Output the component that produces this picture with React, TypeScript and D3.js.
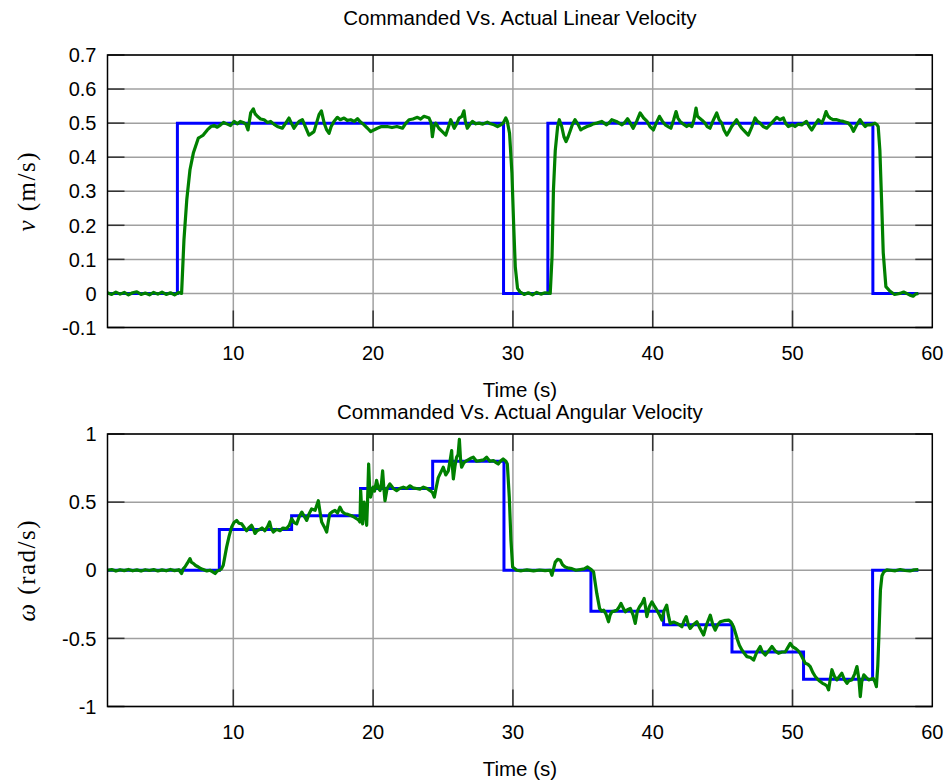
import React from 'react';
import * as d3 from 'd3';

// ---- data ----
const timeTicks = [10, 20, 30, 40, 50, 60];
const linTicks = [-0.1, 0, 0.1, 0.2, 0.3, 0.4, 0.5, 0.6, 0.7];
const angTicks = [-1, -0.5, 0, 0.5, 1];

// commanded values hold from each time until the next one (step)
const cmdLinT = [1, 6.0, 29.33, 32.5, 55.75, 59.0];
const cmdLinV = [0, 0.5, 0, 0.5, 0, 0];

const cmdAngT = [1, 9.0, 14.17, 19.1, 24.26, 29.36, 35.58, 40.78, 45.67, 50.79, 55.73, 59.0];
const cmdAngV = [0, 0.3, 0.4, 0.6, 0.8, 0, -0.3, -0.4, -0.6, -0.8, 0, 0];

// measured linear velocity [t, v]
const actLin: [number, number][] = [
  [1.0,0.002],[1.3,-0.003],[1.6,0.004],[1.9,-0.002],[2.2,0.003],[2.5,-0.004],[2.8,0.002],[3.1,0.005],[3.4,-0.003],[3.7,0.001],
  [4.0,-0.004],[4.3,0.003],[4.6,-0.002],[4.9,0.004],[5.2,-0.003],[5.5,0.002],[5.8,-0.004],[6.1,0.003],[6.3,0.0],
  [6.47,0.158],[6.67,0.275],[6.9,0.363],[7.14,0.412],[7.5,0.456],[7.66,0.46],[7.85,0.465],[8.14,0.48],[8.4,0.49],[8.62,0.493],
  [8.85,0.488],[9.09,0.495],[9.3,0.502],[9.57,0.497],[9.8,0.493],[10.05,0.505],[10.3,0.498],[10.5,0.505],[10.7,0.502],[10.9,0.497],
  [11.05,0.48],[11.24,0.53],[11.43,0.542],[11.55,0.528],[11.72,0.52],[11.95,0.512],[12.2,0.51],[12.45,0.502],[12.67,0.505],[12.9,0.497],
  [13.15,0.49],[13.5,0.485],[13.75,0.5],[13.98,0.515],[14.15,0.5],[14.34,0.485],[14.5,0.495],[14.7,0.505],[14.94,0.51],[15.15,0.49],
  [15.41,0.465],[15.6,0.47],[15.77,0.475],[15.95,0.5],[16.13,0.525],[16.3,0.536],[16.5,0.5],[16.68,0.48],[16.85,0.47],[17.0,0.49],
  [17.2,0.505],[17.44,0.517],[17.65,0.51],[17.92,0.515],[18.15,0.508],[18.4,0.51],[18.65,0.505],[18.88,0.513],[19.1,0.503],[19.35,0.495],
  [19.6,0.485],[19.83,0.475],[20.05,0.48],[20.3,0.485],[20.6,0.49],[21.0,0.49],[21.35,0.487],[21.7,0.49],[22.1,0.485],[22.35,0.5],
  [22.57,0.51],[22.85,0.512],[23.17,0.517],[23.4,0.512],[23.64,0.52],[24.0,0.515],[24.15,0.5],[24.24,0.46],[24.35,0.49],[24.48,0.5],
  [24.7,0.485],[24.95,0.475],[25.2,0.465],[25.4,0.49],[25.55,0.51],[25.8,0.485],[26.0,0.5],[26.15,0.515],[26.35,0.52],[26.5,0.536],
  [26.6,0.505],[26.74,0.485],[26.9,0.495],[27.1,0.505],[27.35,0.498],[27.58,0.5],[27.85,0.497],[28.17,0.503],[28.4,0.498],[28.65,0.495],
  [28.9,0.49],[29.13,0.495],[29.3,0.5],[29.49,0.515],[29.6,0.505],[29.76,0.47],[29.93,0.353],[30.05,0.206],[30.17,0.078],[30.33,0.015],
  [30.5,0.005],[30.8,-0.003],[31.1,0.002],[31.4,-0.004],[31.7,0.003],[32.0,-0.002],[32.3,0.002],[32.67,0.0],[32.8,0.108],[32.9,0.304],
  [33.03,0.42],[33.2,0.49],[33.32,0.51],[33.49,0.49],[33.65,0.46],[33.8,0.446],[33.95,0.46],[34.09,0.476],[34.25,0.495],[34.44,0.51],
  [34.68,0.495],[34.85,0.48],[35.04,0.485],[35.3,0.49],[35.52,0.493],[35.75,0.498],[36.0,0.5],[36.35,0.505],[36.7,0.495],[36.9,0.502],
  [37.07,0.51],[37.4,0.505],[37.8,0.495],[38.0,0.502],[38.2,0.513],[38.4,0.5],[38.6,0.485],[38.85,0.505],[39.1,0.53],[39.35,0.515],
  [39.6,0.505],[39.8,0.49],[40.05,0.48],[40.25,0.5],[40.48,0.52],[40.7,0.505],[40.9,0.495],[41.1,0.49],[41.3,0.485],[41.5,0.51],
  [41.67,0.534],[41.8,0.515],[41.96,0.505],[42.2,0.497],[42.43,0.49],[42.6,0.495],[42.8,0.49],[42.95,0.51],[43.1,0.544],[43.2,0.52],
  [43.34,0.515],[43.55,0.508],[43.74,0.5],[43.9,0.49],[44.1,0.485],[44.35,0.51],[44.58,0.53],[44.75,0.51],[44.94,0.5],[45.1,0.48],
  [45.3,0.465],[45.45,0.475],[45.65,0.49],[46.0,0.51],[46.2,0.495],[46.37,0.485],[46.6,0.475],[46.84,0.465],[47.1,0.49],[47.32,0.515],
  [47.5,0.505],[47.68,0.5],[47.9,0.49],[48.16,0.485],[48.5,0.5],[48.87,0.517],[49.1,0.51],[49.35,0.515],[49.5,0.5],[49.7,0.49],
  [50.0,0.495],[50.18,0.49],[50.4,0.497],[50.66,0.495],[51.0,0.505],[51.2,0.49],[51.38,0.48],[51.6,0.495],[51.85,0.51],[52.1,0.5],
  [52.25,0.515],[52.4,0.534],[52.55,0.52],[52.69,0.515],[52.9,0.51],[53.17,0.51],[53.4,0.507],[53.64,0.505],[54.0,0.5],[54.2,0.49],
  [54.36,0.476],[54.6,0.495],[54.83,0.51],[55.0,0.5],[55.2,0.49],[55.35,0.495],[55.55,0.495],[55.75,0.497],[55.9,0.5],[56.05,0.495],
  [56.13,0.49],[56.25,0.42],[56.37,0.275],[56.49,0.12],[56.68,0.02],[56.96,0.007],[57.3,-0.003],[57.68,0.0],[57.95,0.004],[58.16,0.0],
  [58.4,-0.005],[58.63,-0.008],[58.8,-0.002],[59.0,0.0]
];

// measured angular velocity [t, w]
const actAng: [number, number][] = [
  [1.0,0.0],[1.3,0.005],[1.6,-0.006],[1.9,0.004],[2.2,-0.003],[2.5,0.006],[2.8,-0.004],[3.1,0.003],[3.4,-0.006],[3.7,0.004],
  [4.0,-0.002],[4.3,0.005],[4.6,-0.005],[4.9,0.003],[5.2,-0.004],[5.5,0.006],[5.8,-0.003],[6.1,0.004],[6.3,-0.024],[6.42,0.01],
  [6.54,0.024],[6.7,0.05],[6.9,0.085],[7.0,0.06],[7.14,0.05],[7.3,0.035],[7.5,0.024],[7.7,0.01],[7.85,0.005],[8.1,-0.005],
  [8.33,0.0],[8.5,-0.01],[8.7,-0.024],[8.85,-0.005],[9.0,0.0],[9.15,0.01],[9.28,0.037],[9.52,0.17],[9.7,0.25],[9.88,0.317],
  [10.05,0.35],[10.24,0.366],[10.4,0.345],[10.6,0.34],[10.8,0.31],[10.95,0.29],[11.1,0.31],[11.3,0.33],[11.45,0.3],[11.55,0.27],
  [11.7,0.29],[11.9,0.3],[12.05,0.31],[12.26,0.29],[12.45,0.32],[12.6,0.354],[12.7,0.31],[12.86,0.28],[13.1,0.3],[13.34,0.29],
  [13.55,0.31],[13.8,0.305],[14.0,0.33],[14.17,0.378],[14.35,0.35],[14.53,0.34],[14.7,0.39],[14.9,0.427],[15.05,0.4],[15.25,0.366],
  [15.4,0.41],[15.6,0.45],[15.85,0.44],[16.08,0.51],[16.2,0.43],[16.32,0.354],[16.5,0.32],[16.68,0.28],[16.8,0.36],[16.9,0.415],
  [17.1,0.43],[17.27,0.44],[17.45,0.42],[17.63,0.463],[17.8,0.43],[17.99,0.415],[18.2,0.41],[18.46,0.4],[18.65,0.39],[18.82,0.378],
  [18.95,0.37],[19.06,0.354],[19.11,0.585],[19.18,0.45],[19.25,0.34],[19.35,0.5],[19.42,0.46],[19.54,0.33],[19.6,0.5],[19.68,0.78],
  [19.75,0.6],[19.82,0.537],[20.0,0.61],[20.1,0.58],[20.25,0.66],[20.38,0.6],[20.5,0.585],[20.6,0.64],[20.68,0.73],[20.77,0.6],
  [20.85,0.51],[21.0,0.6],[21.2,0.634],[21.45,0.6],[21.68,0.585],[21.9,0.6],[22.16,0.61],[22.4,0.6],[22.64,0.62],[22.85,0.605],
  [23.1,0.6],[23.35,0.595],[23.6,0.61],[23.85,0.6],[24.07,0.585],[24.25,0.57],[24.38,0.537],[24.5,0.6],[24.66,0.68],[24.85,0.72],
  [25.02,0.756],[25.2,0.7],[25.38,0.73],[25.5,0.8],[25.62,0.878],[25.68,0.75],[25.74,0.67],[25.85,0.76],[25.97,0.83],[26.08,0.85],
  [26.17,0.96],[26.25,0.82],[26.33,0.756],[26.5,0.79],[26.7,0.805],[26.95,0.82],[27.17,0.83],[27.4,0.8],[27.64,0.805],[27.9,0.81],
  [28.12,0.83],[28.35,0.8],[28.6,0.805],[28.8,0.79],[28.95,0.78],[29.1,0.8],[29.3,0.817],[29.5,0.8],[29.6,0.78],[29.74,0.537],
  [29.86,0.22],[29.98,0.024],[30.27,0.0],[30.6,-0.004],[31.0,0.003],[31.48,-0.005],[31.9,0.002],[32.3,-0.003],[32.67,0.0],[32.79,-0.037],
  [33.03,0.06],[33.2,0.08],[33.39,0.073],[33.55,0.04],[33.74,0.024],[34.0,0.015],[34.22,0.012],[34.5,0.0],[34.82,0.005],[35.1,0.01],
  [35.34,0.024],[35.6,0.005],[35.77,-0.012],[36.0,-0.17],[36.2,-0.28],[36.35,-0.3],[36.49,-0.293],[36.65,-0.32],[36.84,-0.378],[36.95,-0.33],
  [37.08,-0.305],[37.25,-0.3],[37.44,-0.293],[37.6,-0.27],[37.73,-0.244],[37.9,-0.28],[38.04,-0.305],[38.2,-0.29],[38.4,-0.28],[38.6,-0.33],
  [38.75,-0.39],[38.9,-0.3],[39.06,-0.268],[39.25,-0.24],[39.39,-0.207],[39.5,-0.28],[39.58,-0.34],[39.75,-0.27],[39.94,-0.232],[40.1,-0.26],
  [40.3,-0.293],[40.5,-0.33],[40.66,-0.366],[40.8,-0.3],[41.0,-0.256],[41.12,-0.33],[41.25,-0.39],[41.5,-0.38],[41.73,-0.39],[41.9,-0.4],
  [42.09,-0.415],[42.25,-0.37],[42.4,-0.34],[42.55,-0.4],[42.68,-0.427],[42.9,-0.4],[43.16,-0.378],[43.4,-0.43],[43.64,-0.475],[43.85,-0.4],
  [44.12,-0.33],[44.3,-0.4],[44.47,-0.44],[44.65,-0.4],[44.83,-0.378],[45.1,-0.37],[45.43,-0.366],[45.6,-0.38],[45.78,-0.415],[45.92,-0.46],
  [46.07,-0.512],[46.2,-0.55],[46.38,-0.585],[46.55,-0.61],[46.74,-0.634],[47.0,-0.64],[47.22,-0.66],[47.45,-0.6],[47.69,-0.56],[47.85,-0.6],
  [48.05,-0.622],[48.3,-0.59],[48.53,-0.56],[48.75,-0.59],[49.0,-0.61],[49.25,-0.6],[49.48,-0.6],[49.65,-0.57],[49.84,-0.537],[50.0,-0.56],
  [50.2,-0.573],[50.4,-0.59],[50.55,-0.61],[50.75,-0.65],[50.91,-0.683],[51.1,-0.69],[51.27,-0.707],[51.45,-0.75],[51.63,-0.78],[51.8,-0.8],
  [51.98,-0.817],[52.15,-0.83],[52.34,-0.84],[52.47,-0.85],[52.58,-0.878],[52.7,-0.8],[52.82,-0.73],[53.0,-0.78],[53.18,-0.805],[53.35,-0.78],
  [53.53,-0.756],[53.7,-0.8],[53.9,-0.83],[54.05,-0.81],[54.25,-0.805],[54.45,-0.76],[54.61,-0.707],[54.75,-0.8],[54.85,-0.927],[54.95,-0.82],
  [55.1,-0.768],[55.3,-0.79],[55.45,-0.805],[55.6,-0.8],[55.77,-0.793],[55.9,-0.82],[56.0,-0.854],[56.1,-0.7],[56.17,-0.512],[56.29,-0.146],
  [56.4,-0.04],[56.53,-0.012],[56.75,0.003],[57.0,0.0],[57.35,-0.004],[57.7,0.005],[58.05,-0.002],[58.4,-0.005],[58.7,0.003],[59.0,0.005]
];

const W = 949;
const H = 783;
const left = 107.5;
const right = 932.3;
const sans = '"Liberation Sans", Arial, sans-serif';
const serif = '"Liberation Serif", "Times New Roman", serif';

const x = d3.scaleLinear().domain([1, 60]).range([left, right]);

function fmt(v: number) {
  return String(Math.round(v * 10) / 10);
}

function Panel({ top, bottom, yDomain, yTicks, cmdT, cmdV, actual, title, titleY, ylabel }: any) {
  const y = d3.scaleLinear().domain(yDomain).range([bottom, top]);
  const cmd = cmdT.map((t: number, i: number) => [t, cmdV[i]]);
  const stepLine = d3.line<number[]>().x(d => x(d[0])).y(d => y(d[1])).curve(d3.curveStepAfter);
  const line = d3.line<number[]>().x(d => x(d[0])).y(d => y(d[1]));
  const tickLen = 17;
  return (
    <g>
      <text x={(left + right) / 2} y={titleY} textAnchor="middle" fontFamily={sans} fontSize={20.5}>{title}</text>
      {/* grid */}
      {timeTicks.filter(t => t < 60).map(t => (
        <line key={'gx' + t} x1={x(t)} x2={x(t)} y1={top} y2={bottom} stroke="#a0a0a0" strokeWidth={1.5} />
      ))}
      {yTicks.map((v: number) => (
        <line key={'gy' + v} x1={left} x2={right} y1={y(v)} y2={y(v)} stroke="#a0a0a0" strokeWidth={1.5} />
      ))}
      {/* ticks */}
      {timeTicks.filter(t => t < 60).map(t => (
        <g key={'tx' + t}>
          <line x1={x(t)} x2={x(t)} y1={bottom} y2={bottom - tickLen} stroke="#333" strokeWidth={1.5} />
          <line x1={x(t)} x2={x(t)} y1={top} y2={top + tickLen} stroke="#333" strokeWidth={1.5} />
        </g>
      ))}
      {yTicks.map((v: number) => (
        <g key={'ty' + v}>
          <line x1={left} x2={left + tickLen} y1={y(v)} y2={y(v)} stroke="#333" strokeWidth={1.5} />
          <line x1={right} x2={right - tickLen} y1={y(v)} y2={y(v)} stroke="#333" strokeWidth={1.5} />
        </g>
      ))}
      {/* data */}
      <path d={stepLine(cmd) || ''} fill="none" stroke="#0000ff" strokeWidth={3} />
      <path d={line(actual) || ''} fill="none" stroke="#008000" strokeWidth={3.2} strokeLinejoin="round" />
      <rect x={left} y={top} width={right - left} height={bottom - top} fill="none" stroke="#000" strokeWidth={1.5} />
      {/* tick labels */}
      {yTicks.map((v: number) => (
        <text key={'ly' + v} x={left - 11} y={y(v)} dy="0.36em" textAnchor="end" fontFamily={sans} fontSize={20}>{fmt(v)}</text>
      ))}
      {timeTicks.map(t => (
        <text key={'lx' + t} x={x(t)} y={bottom + 32} textAnchor="middle" fontFamily={sans} fontSize={20}>{t}</text>
      ))}
      <text x={(left + right) / 2} y={bottom + 69} textAnchor="middle" fontFamily={sans} fontSize={20.5}>Time (s)</text>
      <text transform={`translate(35,${(top + bottom) / 2}) rotate(-90)`} textAnchor="middle" fontFamily={serif} fontSize={25} letterSpacing={1.5}>
        {ylabel}
      </text>
    </g>
  );
}

export default function App() {
  return (
    <svg width={W} height={H} style={{ position: 'absolute', left: 0, top: 0, background: '#fff' }}>
      <rect width={W} height={H} fill="#fff" />
      <Panel
        top={55} bottom={327.5} yDomain={[-0.1, 0.7]} yTicks={linTicks}
        cmdT={cmdLinT} cmdV={cmdLinV} actual={actLin}
        title="Commanded Vs. Actual Linear Velocity" titleY={25}
        ylabel={<><tspan fontStyle="italic">v</tspan>{'\u00a0(m/s)'}</>}
      />
      <Panel
        top={434} bottom={706.5} yDomain={[-1, 1]} yTicks={angTicks}
        cmdT={cmdAngT} cmdV={cmdAngV} actual={actAng}
        title="Commanded Vs. Actual Angular Velocity" titleY={419}
        ylabel={<><tspan fontStyle="italic">ω</tspan>{'\u00a0(rad/s)'}</>}
      />
    </svg>
  );
}
